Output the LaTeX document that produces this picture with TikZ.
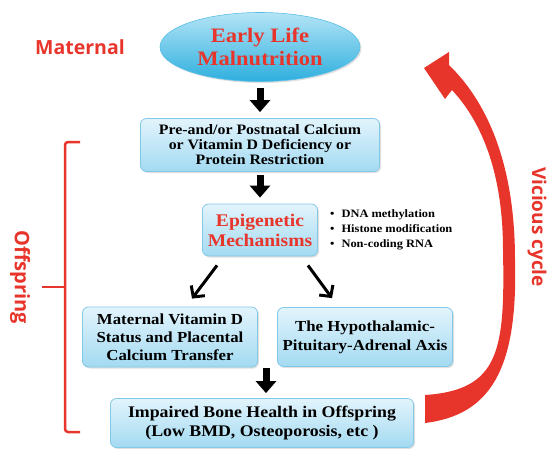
\documentclass[tikz,border=0pt]{standalone}
\usepackage{fontspec}
\setmainfont{Liberation Serif}[FakeStretch=1.1]
\newfontfamily\lblfont{Open Sans}
\usetikzlibrary{shapes.geometric,arrows.meta,shadows,calc}
\definecolor{myred}{HTML}{E8352B}
\definecolor{boxtop}{HTML}{E2F4FC}
\definecolor{boxbot}{HTML}{A3DAF1}
\definecolor{boxline}{HTML}{82C8E7}
\definecolor{elltop}{HTML}{B3E4F6}
\definecolor{ellbot}{HTML}{2EAFDE}
\tikzset{
  bluebox/.style={rectangle, rounded corners=6pt, top color=boxtop, bottom color=boxbot,
    draw=boxline, line width=0.8pt, align=center, inner sep=2pt,
    drop shadow={opacity=0.25, shadow xshift=1.5pt, shadow yshift=-1.5pt},
    font=\bfseries},
  blk/.style={line width=7pt, -{Triangle[width=20pt,length=12pt]}},
  thinarr/.style={line width=3pt, -{Straight Barb[length=8pt,width=17pt]}},
  side/.style={text=myred, font=\lblfont\bfseries}
}
\begin{document}
\begin{tikzpicture}[x=1pt,y=-1pt]
\useasboundingbox (0,0) rectangle (552,451);
% top ellipse
\node[ellipse, minimum width=200pt, minimum height=69pt, inner sep=0pt,
  top color=elltop, bottom color=ellbot, draw=ellbot!80!white, line width=0.6pt,
  drop shadow={opacity=0.25, shadow xshift=1.5pt, shadow yshift=-1.5pt},
  align=center, text=myred, font=\bfseries\fontsize{20.5}{23}\selectfont]
  (ell) at (260,47) {Early Life\\Malnutrition};
\node[side, font=\lblfont\bfseries\fontsize{19.5}{22}\selectfont] (mat) at (80,47) {Maternal};
% box 2
\node[bluebox, minimum width=239pt, minimum height=53pt,
  font=\bfseries\fontsize{14.4}{15}\selectfont] (def) at (260,145)
  {Pre-and/or Postnatal Calcium\\or Vitamin D Deficiency or\\Protein Restriction};
% epigenetic
\node[bluebox, minimum width=115pt, minimum height=52pt, text=myred,
  font=\bfseries\fontsize{17.8}{20}\selectfont] (epi) at (260,230)
  {Epigenetic\\Mechanisms};
\node[anchor=west, align=left, inner sep=0pt, font=\bfseries\fontsize{11.3}{15}\selectfont]
  (bul) at (330,230)
  {\textbullet\hspace{7pt}DNA methylation\\\textbullet\hspace{7pt}Histone modification\\\textbullet\hspace{7pt}Non-coding RNA};
% two boxes
\node[bluebox, minimum width=175pt, minimum height=60pt,
  font=\bfseries\fontsize{15.3}{18}\selectfont] (mvd) at (170,337)
  {Maternal Vitamin D\\Status and Placental\\Calcium Transfer};
\node[bluebox, minimum width=175pt, minimum height=59pt,
  font=\bfseries\fontsize{15.3}{19}\selectfont] (hpa) at (365,337)
  {The Hypothalamic-\\Pituitary-Adrenal Axis};
% bottom box
\node[bluebox, minimum width=303pt, minimum height=49pt,
  font=\bfseries\fontsize{16.2}{19}\selectfont] (bone) at (262,423)
  {Impaired Bone Health in Offspring\\(Low BMD, Osteoporosis, etc )};
% arrows
\draw[blk, shorten <=6pt, shorten >=6pt] (ell.south) -- (def.north);
\draw[blk, shorten <=3pt, shorten >=6pt] (def.south) -- (epi.north);
\draw[thinarr] ([xshift=-43pt,yshift=-9pt]epi.south) -- ([xshift=22pt,yshift=8pt]mvd.north);
\draw[thinarr] ([xshift=48pt,yshift=-9pt]epi.south) -- ([xshift=-33pt,yshift=9pt]hpa.north);
\coordinate (jn) at (266,368);
\draw[blk, shorten >=5pt] (jn) -- (jn |- bone.north);
% bracket
\draw[myred, line width=2.5pt, rounded corners=3pt] (80,142) -- (65,142) -- (65,432) -- (80,432);
\draw[myred, line width=2.5pt] (65,287) -- (42,287);
\node[side, rotate=-90, font=\lblfont\bfseries\fontsize{20}{22}\selectfont] (off) at (20,277) {Offspring};
% vicious cycle arrow
\fill[myred] (425,423) .. controls (490,415) and (518,370) .. (515,260)
  .. controls (515,160) and (485,100) .. (449,65)
  -- (449,52) -- (424,68) -- (445,99) -- (452,90)
  .. controls (480,120) and (503,170) .. (503,250)
  .. controls (505,350) and (500,390) .. (425,395) -- cycle;
\node[side, rotate=-90, font=\lblfont\bfseries\fontsize{19}{22}\selectfont] (vc) at (537,227) {Vicious cycle};
\end{tikzpicture}
\end{document}
